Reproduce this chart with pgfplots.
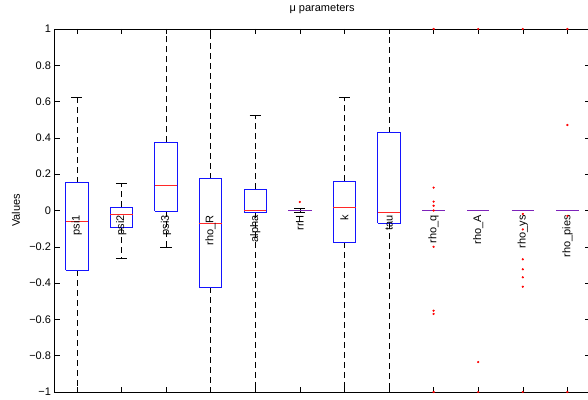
\documentclass[border=0pt]{standalone}
\usepackage{fontspec}
\setmainfont{Liberation Sans}
\usepackage{pgfplots}
\pgfplotsset{compat=1.18}

\definecolor{boxblue}{RGB}{20,20,255}
\definecolor{medred}{RGB}{255,40,40}
\definecolor{flatline}{RGB}{125,35,185}

\pgfplotsset{
  seg/.style={unbounded coords=jump, mark=none},
  boxline/.style={seg, color=boxblue, line width=0.8pt},
  medline/.style={seg, color=medred, line width=0.8pt},
  stem/.style={seg, color=black, line width=0.6pt, dash pattern=on 6pt off 4pt},
  capline/.style={seg, color=black, line width=0.6pt},
  flatbox/.style={seg, color=flatline, line width=0.9pt},
}
\tikzset{grpname/.style={rotate=90, anchor=east, inner sep=0pt, font=\fontsize{11}{13}\selectfont}}

\begin{document}
\begin{tikzpicture}
\begin{axis}[
  at={(54.5pt,7pt)}, anchor=south west,
  scale only axis, width=535.2pt, height=363pt,
  xmin=0.5, xmax=12.5, ymin=-1, ymax=1,
  xtick={1,2,3,4,5,6,7,8,9,10,11,12}, xticklabels={},
  ytick={-1,-0.8,-0.6,-0.4,-0.2,0,0.2,0.4,0.6,0.8,1},
  yticklabels={−1,−0.8,−0.6,−0.4,−0.2,0,0.2,0.4,0.6,0.8,1},
  tick align=inside, major tick length=5pt,
  tick style={black, line width=0.6pt},
  axis line style={line width=0.8pt},
  font=\fontsize{11}{13}\selectfont,
  title={μ parameters},
  title style={at={(axis description cs:0.5,1)}, anchor=center, yshift=14pt, inner sep=0pt},
  ylabel={Values},
  ylabel style={at={(axis description cs:-0.072,0.5)}, anchor=center, rotate=0, inner sep=0pt},
  clip=true,
]
% whisker stems (quartile to whisker end)
\addplot[stem] coordinates {
  (1,-0.330) (1,-1)     (nan,nan) (1,0.153) (1,0.621) (nan,nan)
  (2,-0.093) (2,-0.262) (nan,nan) (2,0.018) (2,0.148) (nan,nan)
  (3,-0.004) (3,-0.200) (nan,nan) (3,0.376) (3,1)     (nan,nan)
  (4,-0.423) (4,-1)     (nan,nan) (4,0.175) (4,1)     (nan,nan)
  (5,-0.008) (5,-1)     (nan,nan) (5,0.117) (5,0.522) (nan,nan)
  (6,-0.002) (6,-0.012) (nan,nan) (6,0.002) (6,0.014) (nan,nan)
  (7,-0.174) (7,-1)     (nan,nan) (7,0.161) (7,0.625) (nan,nan)
  (8,-0.071) (8,-1)     (nan,nan) (8,0.429) (8,1)
};
% whisker caps
\addplot[capline] coordinates {
  (0.875,-1)     (1.125,-1)     (nan,nan) (0.875,0.621) (1.125,0.621) (nan,nan)
  (1.875,-0.262) (2.125,-0.262) (nan,nan) (1.875,0.148) (2.125,0.148) (nan,nan)
  (2.875,-0.200) (3.125,-0.200) (nan,nan) (2.875,1)     (3.125,1)     (nan,nan)
  (3.875,-1)     (4.125,-1)     (nan,nan) (3.875,1)     (4.125,1)     (nan,nan)
  (4.875,-1)     (5.125,-1)     (nan,nan) (4.875,0.522) (5.125,0.522) (nan,nan)
  (5.875,-0.012) (6.125,-0.012) (nan,nan) (5.875,0.014) (6.125,0.014) (nan,nan)
  (6.875,-1)     (7.125,-1)     (nan,nan) (6.875,0.625) (7.125,0.625) (nan,nan)
  (7.875,-1)     (8.125,-1)     (nan,nan) (7.875,1)     (8.125,1)
};
% boxes from lower to upper quartile
\addplot[boxline] coordinates {
  (0.75,-0.330) (1.25,-0.330) (1.25,0.153) (0.75,0.153) (0.75,-0.330) (nan,nan)
  (1.75,-0.093) (2.25,-0.093) (2.25,0.018) (1.75,0.018) (1.75,-0.093) (nan,nan)
  (2.75,-0.004) (3.25,-0.004) (3.25,0.376) (2.75,0.376) (2.75,-0.004) (nan,nan)
  (3.75,-0.423) (4.25,-0.423) (4.25,0.175) (3.75,0.175) (3.75,-0.423) (nan,nan)
  (4.75,-0.008) (5.25,-0.008) (5.25,0.117) (4.75,0.117) (4.75,-0.008) (nan,nan)
  (6.75,-0.174) (7.25,-0.174) (7.25,0.161) (6.75,0.161) (6.75,-0.174) (nan,nan)
  (7.75,-0.071) (8.25,-0.071) (8.25,0.429) (7.75,0.429) (7.75,-0.071)
};
% medians
\addplot[medline] coordinates {
  (0.75,-0.062) (1.25,-0.062) (nan,nan)
  (1.75,-0.021) (2.25,-0.021) (nan,nan)
  (2.75,0.137)  (3.25,0.137)  (nan,nan)
  (3.75,-0.069) (4.25,-0.069) (nan,nan)
  (4.75,-0.001) (5.25,-0.001) (nan,nan)
  (6.75,0.016)  (7.25,0.016)  (nan,nan)
  (7.75,-0.010) (8.25,-0.010)
};
% boxes collapsed onto their median
\addplot[flatbox] coordinates {
  (5.75,-0.002) (6.25,-0.002) (6.25,0.002) (5.75,0.002) (5.75,-0.002) (nan,nan)
  (8.75,0)  (9.25,0)  (nan,nan)
  (9.75,0)  (10.25,0) (nan,nan)
  (10.75,0) (11.25,0) (nan,nan)
  (11.75,0) (12.25,0)
};
% outlying values
\addplot[color=red, only marks, mark=*, mark size=0.9pt]
  coordinates {
    (6,0.047)
    (9,1) (9,0.126) (9,0.049) (9,0.026) (9,0) (9,-0.200) (9,-0.552) (9,-0.570) (9,-1)
    (10,1) (10,-0.835) (10,-1)
    (11,1) (11,-0.019) (11,-0.104) (11,-0.269) (11,-0.324) (11,-0.368) (11,-0.420) (11,-1)
    (12,1) (12,0.471) (12,-0.030) (12,-1)
  };

% group names written along the boxes
\node[grpname] at (axis cs:1,-0.025) {psi1};
\node[grpname] at (axis cs:2,-0.025) {psi2};
\node[grpname] at (axis cs:3,-0.025) {psi3};
\node[grpname] at (axis cs:4,-0.025) {rho\_R};
\node[grpname] at (axis cs:5,-0.025) {alpha};
\node[grpname] at (axis cs:6,-0.025) {rrH};
\node[grpname] at (axis cs:7,-0.025) {k};
\node[grpname] at (axis cs:8,-0.025) {tau};
\node[grpname] at (axis cs:9,-0.025) {rho\_q};
\node[grpname] at (axis cs:10,-0.025) {rho\_A};
\node[grpname] at (axis cs:11,-0.025) {rho\_ys};
\node[grpname] at (axis cs:12,-0.025) {rho\_pies};
\end{axis}
\pgfresetboundingbox
\path[use as bounding box] (0,0) rectangle (588pt,399pt);
\end{tikzpicture}
\end{document}
